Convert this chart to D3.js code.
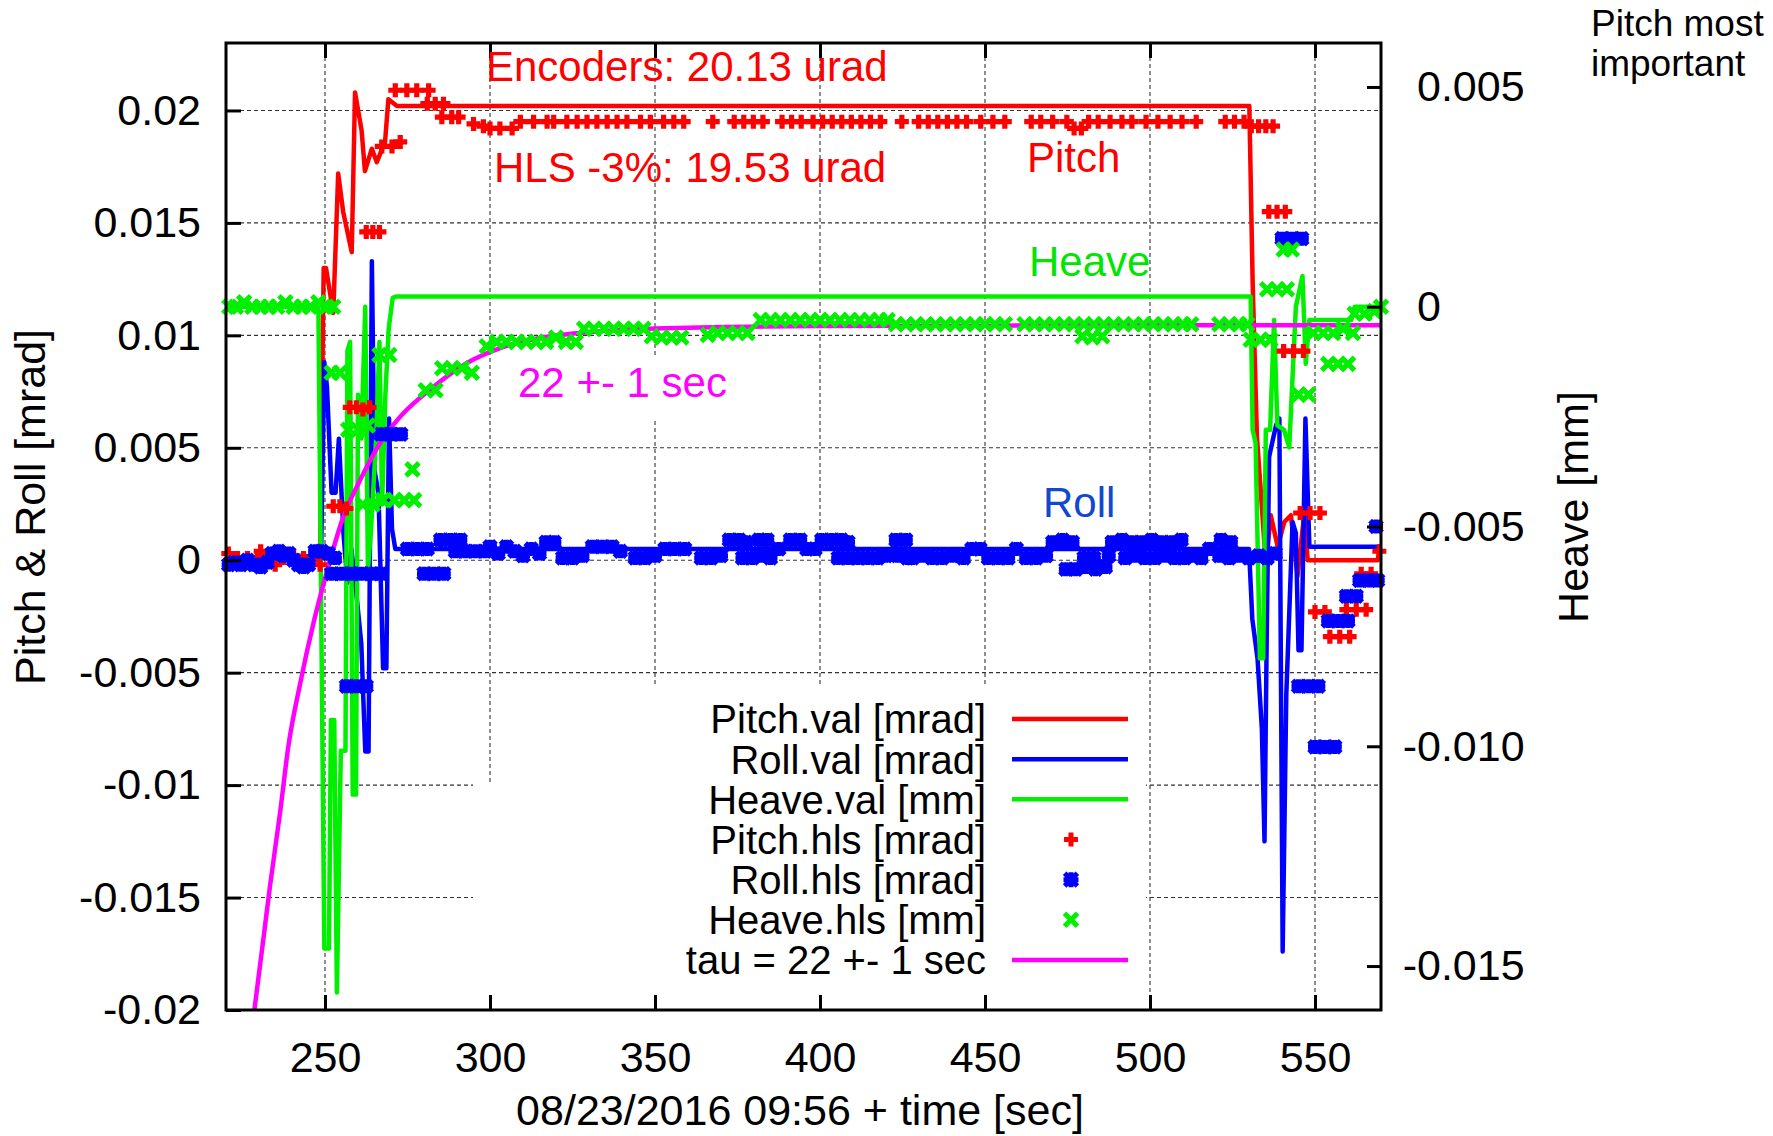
<!DOCTYPE html>
<html>
<head>
<meta charset="utf-8">
<script src="https://cdn.jsdelivr.net/npm/d3@7"></script>
<style>
  html, body { margin: 0; padding: 0; background: #fff; }
  svg { display: block; font-family: "Liberation Sans", Arial, Helvetica, sans-serif; }
</style>
</head>
<body>
<svg id="chart" width="1773" height="1136"></svg>
<script>
// ticks
const xTicks = [250, 300, 350, 400, 450, 500, 550];
const leftTicks = [-0.02, -0.015, -0.01, -0.005, 0, 0.005, 0.01, 0.015, 0.02];
const rightTicks = [-0.015, -0.01, -0.005, 0, 0.005];

// encoder values [time, value]
const pitchVal = [
  [220, 0.0001], [248.5, 0.0000], [249.6, 0.0130], [250.3, 0.0130], [252.5, 0.0110], [254.0, 0.0172],
  [255.5, 0.0155], [258.1, 0.0137], [259.1, 0.0208], [261.1, 0.0191], [262.1, 0.0173], [264.2, 0.0183],
  [265.7, 0.0177], [268.2, 0.0186], [269.2, 0.0205], [271.8, 0.0202], [530.1, 0.0202], [531.1, 0.0124],
  [532.4, 0.0055], [533.6, 0.0030], [535.1, -0.0002], [536.6, 0.0020], [538.7, 0.0006], [540.7, 0.0017],
  [542.7, 0.0020], [544.7, -0.0007], [546.7, 0.0020], [547.8, 0.0000], [569.0, 0.0000], [569.5, 0.0005], [570, 0.0005]
];
const rollVal = [
  [220, 0.0000], [248.8, 0.0002], [249.8, 0.0088], [250.6, 0.0077], [252.0, 0.0030], [253.2, 0.0030],
  [254.2, 0.0054], [255.6, 0.0012], [256.8, -0.0010], [258.0, 0.0005], [259.5, -0.0015], [261.0, -0.0037],
  [262.2, -0.0085], [263.2, -0.0085], [264.2, 0.0133], [265.0, 0.0040], [266.2, 0.0030], [267.6, -0.0048],
  [268.6, -0.0048], [269.4, 0.0063], [270.3, 0.0014], [271.3, 0.0005], [530.0, 0.0005], [531.0, -0.0026],
  [532.6, -0.0044], [533.9, -0.0075], [534.7, -0.0125], [535.4, -0.0030], [536.1, 0.0046], [538.2, 0.0060],
  [539.2, 0.0063], [540.2, -0.0174], [541.3, -0.0060], [543.2, 0.0017], [544.2, 0.0012], [545.0, -0.0040],
  [545.9, -0.0040], [547.1, 0.0063], [548.3, 0.0006], [570, 0.0006]
];
const heaveVal = [
  [220, 0.0000], [248.0, 0.0000], [249.8, -0.0146], [251.2, -0.0146], [251.8, -0.0094], [252.8, -0.0094],
  [253.6, -0.0156], [254.8, -0.0101], [256.2, -0.0101], [256.8, -0.0010], [257.6, -0.0008], [258.4, -0.0111],
  [259.4, -0.0111], [260.0, -0.0020], [261.0, -0.0030], [262.2, 0.0000], [263.0, -0.0060], [264.0, -0.0050],
  [265.5, -0.0030], [266.5, -0.0008], [267.3, -0.0045], [268.3, -0.0020], [269.3, -0.0005], [270.5, 0.0002],
  [271.5, 0.00023], [530.5, 0.00023], [531.1, -0.0028], [532.0, -0.0031], [533.3, -0.0080], [534.3, -0.0080],
  [535.1, -0.0028], [536.4, -0.0028], [537.6, -0.0003], [538.6, -0.0027], [540.6, -0.0028], [542.2, -0.0032],
  [544.2, 0.0000], [546.2, 0.0007], [547.2, -0.0013], [548.3, -0.0003], [561, -0.0003], [562, 0.0000], [570, 0.0000]
];

// HLS readings [time, value]
const pitchHls = [
  [220.7, 0.0003], [223.5, 0.0001], [226.5, 0.0001], [229.5, 0.0001], [230.5, 0.0004], [232.5, 0.0002],
  [234.9, -0.0002], [237.5, 0.0001], [240.5, 0.0002], [243.5, 0.0001], [246, 0.0001], [248.5, -0.0002],
  [252.5, 0.0024], [254.5, 0.0024], [256.5, 0.0023],
  [257.5, 0.0068], [259.5, 0.0068], [261.5, 0.0067], [263.5, 0.0068],
  [262.5, 0.0146], [264.5, 0.0146], [266.5, 0.0146],
  [267.2, 0.0184], [270.3, 0.0184], [272.8, 0.0186],
  [271.3, 0.0209], [274.8, 0.0209], [277.8, 0.0209], [281.4, 0.0209],
  [281, 0.0203], [283.4, 0.0203], [285.9, 0.0203],
  [285.4, 0.0197], [288.4, 0.0197], [290.5, 0.0197],
  [295, 0.0194], [298, 0.0193], [300, 0.0192], [303, 0.0192], [306.7, 0.0192],
  [309.2, 0.0195], [313.2, 0.0195], [317.3, 0.0195], [319.3, 0.0195], [323.3, 0.0195], [326.4, 0.0195],
  [329.4, 0.0195], [332.4, 0.0195], [335.5, 0.0195], [338.5, 0.0195], [341.5, 0.0195], [345.6, 0.0195],
  [348.6, 0.0195], [352.6, 0.0195], [355.7, 0.0195], [358.7, 0.0195],
  [367.5, 0.0195], [374, 0.0195], [376.9, 0.0195], [379.8, 0.0195], [382.7, 0.0195], [388.5, 0.0195],
  [391.4, 0.0195], [394.3, 0.0195], [397.9, 0.0195], [400.8, 0.0195], [403.7, 0.0195], [406.6, 0.0195],
  [409.5, 0.0195], [412.4, 0.0195], [415.3, 0.0195], [418.3, 0.0195],
  [424.8, 0.0195], [429.9, 0.0195], [432.8, 0.0195], [435.7, 0.0195], [438.6, 0.0195], [441.5, 0.0195],
  [444.4, 0.0195], [448.7, 0.0195], [452.4, 0.0195], [456, 0.0195],
  [464, 0.0195], [466.9, 0.0195], [470.5, 0.0195], [474.8, 0.0195], [477, 0.0192], [479.2, 0.0192],
  [481.4, 0.0195], [484.3, 0.0195], [487.9, 0.0195], [491.5, 0.0195], [494.5, 0.0195], [498.8, 0.0195],
  [502.4, 0.0195], [506.1, 0.0195], [509.7, 0.0195], [514, 0.0195],
  [522.8, 0.0195], [525.6, 0.0195], [528.5, 0.0195], [530.7, 0.0193], [532.9, 0.0193], [535.1, 0.0193], [537.3, 0.0193],
  [536, 0.0155], [538.5, 0.0155], [541, 0.0155],
  [540.5, 0.0093], [543.5, 0.0093], [546.5, 0.0093],
  [545.5, 0.0021], [548.5, 0.0021], [551.5, 0.0021],
  [550, -0.0023], [553, -0.0023],
  [554.5, -0.0034], [557.5, -0.0034], [560.5, -0.0034],
  [559.5, -0.0022], [562.5, -0.0022], [565.5, -0.0022],
  [564, -0.0006], [567, -0.0006], [569.5, 0.0004]
];
const rollHls = [
  [220.8, -0.0002], [222.5, -0.0001], [224.5, -0.0002], [226.5, 0.0000], [228.5, -0.0002], [230.5, -0.0003],
  [232.5, -0.0001], [234, 0.0003], [236, 0.0004], [237.5, 0.0002], [239, 0.0003], [240.5, 0.0000],
  [242, -0.0002], [243.5, -0.0003], [245, -0.0002], [247, 0.0004], [249, 0.0004], [251, 0.0003], [253, 0.0001],
  [252, -0.0006], [255, -0.0006], [258, -0.0006], [261, -0.0006], [264, -0.0006], [267, -0.0006],
  [256.5, -0.0056], [259.5, -0.0056], [262.5, -0.0056],
  [267, 0.0056], [270, 0.0056], [273, 0.0056],
  [275, 0.0005], [278, 0.0005], [281, 0.0005],
  [280, -0.0006], [283, -0.0006], [286, -0.0006],
  [285, 0.0009], [288, 0.0009], [291, 0.0009],
  [289.5, 0.0004], [292.5, 0.0004], [295.5, 0.0004], [298.5, 0.0004],
  [300, 0.0006], [302.5, 0.0003], [305, 0.0006], [307.5, 0.0004], [310, 0.0002], [312.5, 0.0005], [315, 0.0003],
  [317, 0.0008], [319.5, 0.0008], [322, 0.0001], [325, 0.0001], [328, 0.0002],
  [331, 0.0006], [334, 0.0006], [337, 0.0006], [339.5, 0.0004],
  [344, 0.0001], [347, 0.0001], [350, 0.0002], [353, 0.0005], [356, 0.0005], [359, 0.0005],
  [364, 0.0001], [367, 0.0001], [370, 0.0002], [372.5, 0.0009], [375.5, 0.0009], [377.5, 0.0008],
  [376.5, 0.0001], [379.5, 0.0001], [382.5, 0.0002], [385, 0.0001], [381.5, 0.0009], [384, 0.0009],
  [387.5, 0.0005], [391, 0.0009], [394, 0.0009], [396, 0.0005], [398.5, 0.0005],
  [400.5, 0.0009], [403.5, 0.0009], [406.5, 0.0009], [408.5, 0.0008],
  [405.5, 0.0001], [408.5, 0.0001], [411.5, 0.0001], [414.5, 0.0001], [417.5, 0.0001], [420, 0.0002],
  [423, 0.0009], [426, 0.0009], [423.5, 0.0002], [426.5, 0.0001],
  [428, 0.0001], [431, 0.0002], [434, 0.0001], [437, 0.0001], [440, 0.0002], [443.5, 0.0001],
  [446, 0.0005], [448.5, 0.0005], [451, 0.0001], [454, 0.0001], [457, 0.0001], [459.5, 0.0005],
  [462.5, 0.0001], [465.5, 0.0001], [468.5, 0.0002], [470.5, 0.0008], [473.5, 0.0009], [476.5, 0.0008],
  [474.5, -0.0004], [477.5, -0.0004], [480.5, -0.0003], [483.5, -0.0004], [486.5, -0.0003],
  [480, 0.0001], [483, 0.0001], [487.5, 0.0002],
  [488.5, 0.0008], [491.5, 0.0009], [494.5, 0.0008], [497.5, 0.0008], [500.5, 0.0009], [503.5, 0.0008],
  [506.5, 0.0008], [509.5, 0.0009],
  [492.5, 0.0001], [495.5, 0.0002], [498.5, 0.0001], [501.5, 0.0001], [504.5, 0.0002], [507.5, 0.0001],
  [510.5, 0.0001], [512.5, 0.0002], [515.5, 0.0001], [518, 0.0005], [521.5, 0.0009], [524.5, 0.0008],
  [521, 0.0002], [524, 0.0001], [527, 0.0002], [530, 0.0001], [533, 0.0002], [535.5, 0.0001], [538, 0.0003],
  [540, 0.0143], [543, 0.0143], [546, 0.0143],
  [545, -0.0056], [548, -0.0056], [551, -0.0056],
  [550, -0.0083], [553, -0.0083], [556, -0.0083],
  [554, -0.0027], [557, -0.0027], [560, -0.0027],
  [559.5, -0.0016], [562.5, -0.0016],
  [563.5, -0.0009], [566.5, -0.0009], [569, -0.0009], [568.5, 0.0015]
];
const heaveHls = [
  [221, 0.0000], [223, 0.0000], [225.5, 0.0001], [228, 0.0000], [230.5, 0.0000], [233, 0.0000],
  [235.5, 0.0000], [238, 0.0001], [240.5, 0.0000], [243, 0.0000], [245.5, 0.0000], [248, 0.0001],
  [250.5, 0.0000], [252.5, 0.0000],
  [252, -0.0015], [254.5, -0.0015],
  [257, -0.0028], [260, -0.0028], [263, -0.0027],
  [261.5, -0.0045], [264.5, -0.0045], [267.5, -0.0044],
  [266.5, -0.0011], [269.5, -0.0011],
  [271, -0.0044], [274, -0.0044], [277, -0.0044], [276.5, -0.0037],
  [280.5, -0.0019], [283.5, -0.0019],
  [285.5, -0.0014], [288.5, -0.0014], [291.5, -0.0014], [294.5, -0.0015],
  [299, -0.0009], [302, -0.0008], [305, -0.0008], [308, -0.0008], [311, -0.0008], [314, -0.0008],
  [317, -0.0008], [320, -0.0007], [323, -0.0008], [326, -0.0008],
  [328.5, -0.0005], [331.5, -0.0005], [334.5, -0.0005], [337.5, -0.0005], [340.5, -0.0005], [343.5, -0.0005],
  [346.5, -0.0005], [349, -0.00067], [352, -0.0007], [355, -0.0007], [358, -0.0007],
  [366, -0.00064], [369, -0.0006], [372, -0.0006], [375, -0.0006], [378, -0.0006],
  [382, -0.0003], [385, -0.0003], [388, -0.0003], [391, -0.0003], [394, -0.0003], [397, -0.0003],
  [400, -0.0003], [403, -0.0003], [406, -0.0003], [409, -0.0003], [412, -0.0003], [415, -0.0003],
  [418, -0.0003], [420.5, -0.0003],
  [423, -0.0004], [426, -0.0004], [429, -0.0004], [432, -0.0004], [435, -0.0004], [438, -0.0004],
  [441, -0.0004], [444, -0.0004], [447, -0.0004], [450, -0.0004], [453, -0.0004], [456, -0.0004],
  [462, -0.0004], [465, -0.0004], [468, -0.0004], [471, -0.0004], [474, -0.0004], [477, -0.0004],
  [480, -0.0004], [483, -0.0004], [486, -0.0004], [489, -0.0004], [492, -0.0004], [495, -0.0004],
  [498, -0.0004], [501, -0.0004], [504, -0.0004], [507, -0.0004], [510, -0.0004], [512.5, -0.0004],
  [479.5, -0.00067], [482.5, -0.0007], [485.5, -0.00067],
  [521, -0.0004], [524, -0.0004], [527, -0.0004], [529.5, -0.0004],
  [530.5, -0.00075], [533.5, -0.00075], [536.5, -0.00075],
  [535.5, 0.0004], [538.5, 0.0004], [541.5, 0.0004],
  [540.5, 0.0013], [543, 0.0013],
  [545, -0.002], [548, -0.002],
  [549.5, -0.0006], [552.5, -0.0006], [555.5, -0.0006], [558.5, -0.0005], [561.5, -0.0006],
  [554, -0.0013], [557, -0.0013], [560, -0.0013],
  [562, -0.00016], [565, -0.00016], [568, -0.0001], [570, 0.0000]
];

// exponential fit (heave axis)
const tauFit = [
  [228.6, -0.0160], [231.3, -0.0144], [233.3, -0.0132], [236.4, -0.0115], [238.9, -0.0100],
  [242.4, -0.0086], [246.5, -0.0072], [250.5, -0.00605], [255.6, -0.00477], [260.6, -0.00395],
  [266.7, -0.0031], [272.8, -0.00250], [282.9, -0.00182], [293, -0.00128], [303.1, -0.00094],
  [313.2, -0.00074], [333.4, -0.00056], [353.7, -0.00049], [400, -0.00044], [450, -0.00043],
  [500, -0.00042], [570, -0.00042]
];

const legendLabels = ["Pitch.val [mrad]", "Roll.val [mrad]", "Heave.val [mm]", "Pitch.hls [mrad]",
  "Roll.hls [mrad]", "Heave.hls [mm]", "tau = 22 +- 1 sec"];

const RED = "#ff0000", BLUE = "#0000ff", GREEN = "#00f000", MAGENTA = "#ff00ff";

const plot = {left: 226, right: 1381, top: 43, bottom: 1010};
const svg = d3.select("#chart");

const x = d3.scaleLinear().domain([220, 570]).range([plot.left, plot.right]);
const yL = d3.scaleLinear().domain([-0.02, 0.023]).range([plot.bottom, plot.top]);
const yR = d3.scaleLinear().domain([-0.016, 0.006]).range([plot.bottom, plot.top]);

svg.append("defs").append("clipPath").attr("id", "clip")
  .append("rect")
    .attr("x", plot.left).attr("y", plot.top)
    .attr("width", plot.right - plot.left).attr("height", plot.bottom - plot.top);

// grid
const grid = svg.append("g")
    .attr("stroke", "#333").attr("stroke-width", 1.1).attr("stroke-dasharray", "4,3");
grid.selectAll("line.gx")
  .data(xTicks)
  .enter().append("line")
    .attr("x1", d => x(d)).attr("x2", d => x(d))
    .attr("y1", plot.top).attr("y2", plot.bottom);
grid.selectAll("line.gy")
  .data(leftTicks.filter(d => d > -0.02))
  .enter().append("line")
    .attr("x1", plot.left).attr("x2", plot.right)
    .attr("y1", d => yL(d)).attr("y2", d => yL(d));

// white patches behind key and label
svg.append("rect").attr("x", 473).attr("y", 782).attr("width", 673).attr("height", 226).attr("fill", "#fff");
svg.append("rect").attr("x", 600).attr("y", 685).attr("width", 546).attr("height", 323).attr("fill", "#fff");
svg.append("rect").attr("x", 492).attr("y", 358).attr("width", 250).attr("height", 60).attr("fill", "#fff");

const plusPath = s => `M${-s},0H${s}M0,${-s}V${s}`;
const crossPath = s => `M${-s},${-s}L${s},${s}M${-s},${s}L${s},${-s}`;
const starPath = s => plusPath(s) + crossPath(s * 0.85);

const lineL = d3.line().x(d => x(d[0])).y(d => yL(d[1]));
const lineR = d3.line().x(d => x(d[0])).y(d => yR(d[1]));

const data = svg.append("g");
const lines = data.append("g").attr("clip-path", "url(#clip)")
    .attr("fill", "none").attr("stroke-width", 4.5).attr("stroke-linejoin", "round");

lines.append("path").datum(pitchVal).attr("stroke", RED).attr("d", lineL);
lines.append("path").datum(rollVal).attr("stroke", BLUE).attr("d", lineL);
lines.append("path").datum(heaveVal).attr("stroke", GREEN).attr("d", lineR);

const marks = (rows, yScale, color, shape, sw) => {
  data.append("g")
    .selectAll("path")
    .data(rows)
    .enter().append("path")
      .attr("transform", d => `translate(${x(d[0])},${yScale(d[1])})`)
      .attr("d", shape)
      .attr("fill", "none")
      .attr("stroke", color)
      .attr("stroke-width", sw);
};
marks(pitchHls, yL, RED, plusPath(7), 5.2);
marks(rollHls, yL, BLUE, starPath(7), 5.2);
marks(heaveHls, yR, GREEN, crossPath(6.5), 5);

lines.append("path").datum(tauFit)
    .attr("stroke", MAGENTA)
    .attr("d", lineR.curve(d3.curveMonotoneX));

// axes
const fmtL = d => d === 0 ? "0" : String(+d.toFixed(3));
const fmtR = d => d === 0 ? "0" : d.toFixed(3);

const styleAxis = g => {
  g.select(".domain").remove();
  g.selectAll(".tick line").attr("stroke", "#000").attr("stroke-width", 3);
  g.selectAll("text").attr("fill", "#000").style("font-size", "43px")
    .style("font-family", "'Liberation Sans', Arial, sans-serif");
};

svg.append("g")
    .attr("transform", `translate(${plot.left},0)`)
    .call(d3.axisLeft(yL).tickValues(leftTicks).tickSize(-15).tickPadding(25).tickFormat(fmtL))
    .call(styleAxis);

svg.append("g")
    .attr("transform", `translate(0,${plot.bottom})`)
    .call(d3.axisBottom(x).tickValues(xTicks).tickSize(-15).tickPadding(31))
    .call(styleAxis);

svg.append("g")
    .attr("transform", `translate(0,${plot.top})`)
    .call(d3.axisTop(x).tickValues(xTicks).tickSize(-15).tickFormat(""))
    .call(styleAxis);

svg.append("g")
    .attr("transform", `translate(${plot.right},0)`)
    .call(d3.axisRight(yR).tickValues(rightTicks).tickSize(-14).tickPadding(36).tickFormat(fmtR))
    .call(styleAxis)
    .selectAll("text").attr("dx", d => d < 0 ? "-0.333em" : 0);

svg.append("rect")
    .attr("x", plot.left).attr("y", plot.top)
    .attr("width", plot.right - plot.left).attr("height", plot.bottom - plot.top)
    .attr("fill", "none").attr("stroke", "#000").attr("stroke-width", 3);

// axis titles
svg.append("text")
    .attr("transform", "translate(45,507) rotate(-90)")
    .attr("text-anchor", "middle").style("font-size", "43px")
    .text("Pitch & Roll [mrad]");
svg.append("text")
    .attr("transform", "translate(1588,507) rotate(-90)")
    .attr("text-anchor", "middle").style("font-size", "43px")
    .text("Heave [mm]");
svg.append("text")
    .attr("x", 800).attr("y", 1125)
    .attr("text-anchor", "middle").style("font-size", "43px")
    .text("08/23/2016 09:56 + time [sec]");

svg.append("text")
    .attr("x", 1591).attr("y", 36).style("font-size", "37px")
    .text("Pitch most");
svg.append("text")
    .attr("x", 1591).attr("y", 76).style("font-size", "37px")
    .text("important");

// annotations
const note = (tx, px, py, color) => svg.append("text")
    .attr("x", px).attr("y", py).attr("fill", color).style("font-size", "42px").text(tx);
note("Encoders: 20.13 urad", 486, 81, RED);
note("HLS -3%: 19.53 urad", 494, 182, RED);
note("Pitch", 1027, 172, RED);
note("Heave", 1029, 276, "#00e600");
note("22 +- 1 sec", 518, 397, MAGENTA);
note("Roll", 1043, 517, "#1048d0");

// key
const keyY = d3.scalePoint().domain(legendLabels).range([719, 960]);
const keyColor = [RED, BLUE, GREEN, RED, BLUE, GREEN, MAGENTA];
const key = svg.append("g");
key.selectAll("text")
  .data(legendLabels)
  .enter().append("text")
    .attr("x", 986)
    .attr("y", d => keyY(d))
    .attr("dy", "0.36em")
    .attr("text-anchor", "end")
    .style("font-size", "40px")
    .text(d => d);
key.selectAll("line")
  .data(legendLabels.filter((d, i) => i < 3 || i === 6))
  .enter().append("line")
    .attr("x1", 1012).attr("x2", 1128)
    .attr("y1", d => keyY(d)).attr("y2", d => keyY(d))
    .attr("stroke", d => keyColor[legendLabels.indexOf(d)])
    .attr("stroke-width", 4.5);
const keyShapes = [plusPath(7), starPath(7.5), crossPath(6.5)];
key.selectAll("path")
  .data(legendLabels.slice(3, 6))
  .enter().append("path")
    .attr("transform", d => `translate(1071,${keyY(d)})`)
    .attr("d", (d, i) => keyShapes[i])
    .attr("fill", "none")
    .attr("stroke", d => keyColor[legendLabels.indexOf(d)])
    .attr("stroke-width", 5);
</script>
</body>
</html>
